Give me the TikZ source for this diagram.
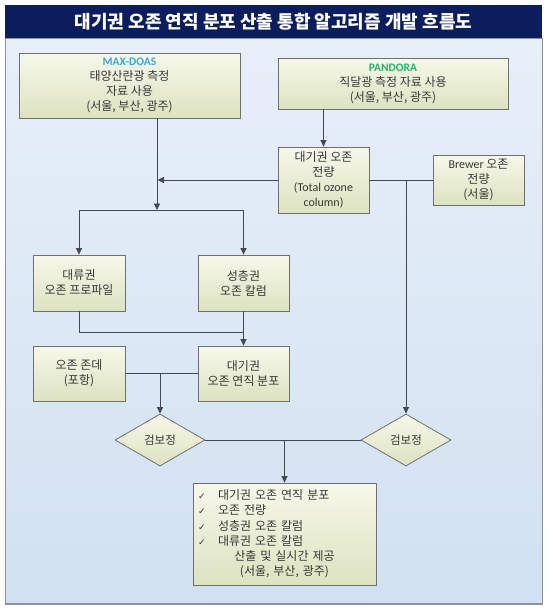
\documentclass[tikz,border=0pt]{standalone}
\usepackage{fontspec}
\setmainfont{Carlito}
\newfontfamily\kr{Noto Sans CJK KR}
\newfontfamily\dejavu{DejaVu Sans}
\usetikzlibrary{arrows.meta,shapes.geometric}
\definecolor{navy}{RGB}{11,29,92}
\definecolor{panelT}{RGB}{231,239,249}
\definecolor{panelB}{RGB}{209,225,241}
\definecolor{panelEdge}{RGB}{140,146,155}
\definecolor{boxT}{RGB}{247,248,234}
\definecolor{boxB}{RGB}{221,226,192}
\definecolor{boxEdge}{RGB}{112,112,112}
\definecolor{wireC}{RGB}{66,72,84}
\definecolor{txt}{RGB}{55,55,55}
\definecolor{maxc}{RGB}{54,170,222}
\definecolor{panc}{RGB}{38,178,108}
\tikzset{
  bx/.style={draw=boxEdge, line width=0.8pt, top color=boxT, bottom color=boxB,
    inner sep=0pt, align=center, text=txt, font=\kr\fontsize{12}{15}\selectfont},
  dm/.style={diamond, draw=boxEdge, line width=0.8pt, top color=boxT, bottom color=boxB,
    inner sep=0pt, text=txt, minimum width=90pt, minimum height=52pt,
    font=\kr\fontsize{11.5}{14}\selectfont},
  wire/.style={draw=wireC, line width=0.85pt},
  arr/.style={wire, -{Triangle[length=6.5pt,width=6pt]}}
}
\newcommand{\chk}{\makebox[20pt][l]{\dejavu\fontsize{9}{9}\selectfont ✓}}
\begin{document}
\begin{tikzpicture}[x=1pt,y=-1pt]
\useasboundingbox (0,0) rectangle (553,611);
% panel
\shade[top color=panelT, bottom color=panelB, draw=panelEdge, line width=0.8pt] (5,38) rectangle (542,604);
\draw[panelEdge, line width=1.6pt] (5,604) -- (542,604);
% title
\node[fill=navy, minimum width=537pt, minimum height=33pt, inner sep=0pt, text=white,
  font=\kr\bfseries\fontsize{18}{20}\selectfont] (title) at (273.5,21.5)
  {대기권 오존 연직 분포 산출 통합 알고리즘 개발 흐름도};
% boxes
\node[bx, minimum width=221pt, minimum height=65pt] (max) at (129.5,85.5)
  {{\fontspec{Carlito}\bfseries\fontsize{11.5}{15}\selectfont\color{maxc}MAX-DOAS}\\태양산란광 측정\\자료 사용\\(서울, 부산, 광주)};
\node[bx, minimum width=230pt, minimum height=51pt] (pan) at (393,83.5)
  {{\fontspec{Carlito}\bfseries\fontsize{11.5}{16}\selectfont\color{panc}PANDORA}\\직달광 측정 자료 사용\\(서울, 부산, 광주)};
\node[bx, minimum width=91pt, minimum height=66pt] (tot) at (323.5,180)
  {대기권 오존\\전량\\{\fontspec{Carlito}\fontsize{12}{15}\selectfont (Total ozone}\\{\fontspec{Carlito}\fontsize{12}{15}\selectfont column)}};
\node[bx, minimum width=91pt, minimum height=50pt] (brw) at (478.5,180)
  {{\fontspec{Carlito}\fontsize{12}{15}\selectfont Brewer} 오존\\전량\\(서울)};
\node[bx, minimum width=92pt, minimum height=56pt] (tro) at (79,283) {대류권\\오존 프로파일};
\node[bx, minimum width=91pt, minimum height=56pt] (str) at (243.5,283) {성층권\\오존 칼럼};
\node[bx, minimum width=92pt, minimum height=55pt] (son) at (79,373.5) {오존 존데\\(포항)};
\node[bx, minimum width=91pt, minimum height=55pt] (ver) at (243.5,373.5) {대기권\\오존 연직 분포};
\node[dm] (d1) at (160,440) {검보정};
\node[dm] (d2) at (406,440) {검보정};
\node[bx, minimum width=183pt, minimum height=102pt, text width=173pt, align=left,
  font=\kr\fontsize{12}{15.2}\selectfont] (fin) at (284.5,534)
  {\chk 대기권 오존 연직 분포\\
   \chk 오존 전량\\
   \chk 성층권 오존 칼럼\\
   \chk 대류권 오존 칼럼\\
   \makebox[173pt][c]{산출 및 실시간 제공}\\
   \makebox[173pt][c]{(서울, 부산, 광주)}};
% junction coordinates
\coordinate (jA) at (157,210);
\coordinate (jT) at (157,180);
\coordinate (jB) at (406,180);
\coordinate (jC) at (243.5,332);
\coordinate (jD) at (160,373.5);
\coordinate (jE) at (284.5,440);
% connectors
\draw[arr] (pan.south -| tot.north) -- (tot.north);
\draw[arr] (tot.west) -- ([xshift=0.5pt]jT);
\draw[arr] (max.south -| jA) -- (jA);
\draw[wire] (jA -| tro.north) -- (jA -| str.north);
\draw[arr] (jA -| tro.north) -- (tro.north);
\draw[arr] (jA -| str.north) -- (str.north);
\draw[wire] (tot.east) -- (brw.west);
\draw[arr] (jB) -- (d2.north);
\draw[wire] (tro.south) |- (jC);
\draw[arr] (str.south) -- (ver.north);
\draw[wire] (son.east) -- (ver.west);
\draw[arr] (jD) -- (d1.north);
\draw[wire] (d1.east) -- (d2.west);
\draw[arr] (jE) -- (fin.north);
\end{tikzpicture}
\end{document}
